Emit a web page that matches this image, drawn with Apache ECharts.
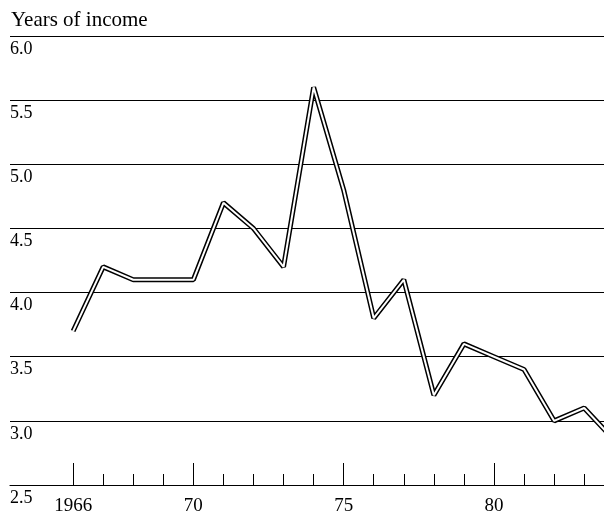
<!DOCTYPE html>
<html><head><meta charset="utf-8">
<script src="https://cdn.jsdelivr.net/npm/echarts@6/dist/echarts.min.js"></script>
<style>html,body{margin:0;padding:0;background:#fff}#c{width:604px;height:516px}</style>
</head><body><div id="c"></div>
<script>
const years = [1966,1967,1968,1969,1970,1971,1972,1973,1974,1975,1976,1977,1978,1979,1980,1981,1982,1983,1984];
const values = [3.7,4.2,4.1,4.1,4.1,4.7,4.5,4.2,5.6,4.8,3.8,4.1,3.2,3.6,3.5,3.4,3.0,3.1,2.85];
const minorTicks = [1966,1967,1968,1969,1970,1971,1972,1973,1974,1975,1976,1977,1978,1979,1980,1981,1982,1983];
const majorTicks = [1966,1970,1975,1980];
const majorLabels = ['1966','70','75','80'];
const yTitle = 'Years of income';

const font = 'Liberation Serif';
const data = years.map((y,i)=>[y, values[i]]);
const chart = echarts.init(document.getElementById('c'));
const xMin = 1963.9, xMax = 1983.66;
chart.setOption({
  animation:false,
  backgroundColor:'#fff',
  title:{text:yTitle,left:11,top:10,padding:0,textStyle:{fontFamily:font,fontSize:21,fontWeight:'normal',color:'#000'}},
  grid:{left:10,right:0,top:36,bottom:30},
  xAxis:[
    {type:'value',min:xMin,max:xMax,position:'bottom',
     axisLine:{show:true,lineStyle:{color:'#000',width:1.2}},
     axisTick:{show:true,inside:true,length:11,customValues:minorTicks,lineStyle:{color:'#000',width:1}},
     axisLabel:{show:true,customValues:majorTicks,formatter:v=>majorLabels[majorTicks.indexOf(v)],fontFamily:font,fontSize:19,color:'#000',margin:12},
     splitLine:{show:false}},
    {type:'value',min:xMin,max:xMax,position:'bottom',
     axisLine:{show:false},
     axisTick:{show:true,inside:true,length:22,customValues:majorTicks,lineStyle:{color:'#000',width:1}},
     axisLabel:{show:false},splitLine:{show:false}}
  ],
  yAxis:{type:'value',min:2.5,max:6.0,interval:0.5,
    axisLine:{show:false},axisTick:{show:false},
    splitLine:{show:true,lineStyle:{color:'#000',width:1.2}},
    axisLabel:{inside:true,margin:0,verticalAlign:'top',padding:[4,0,0,0],formatter:v=>v.toFixed(1),fontFamily:font,fontSize:18,color:'#000'}},
  series:[
    {type:'line',data:data,xAxisIndex:0,symbol:'none',lineStyle:{color:'#000',width:5},z:3},
    {type:'line',data:data,xAxisIndex:0,symbol:'none',lineStyle:{color:'#fff',width:2},z:4}
  ]
});
</script></body></html>
